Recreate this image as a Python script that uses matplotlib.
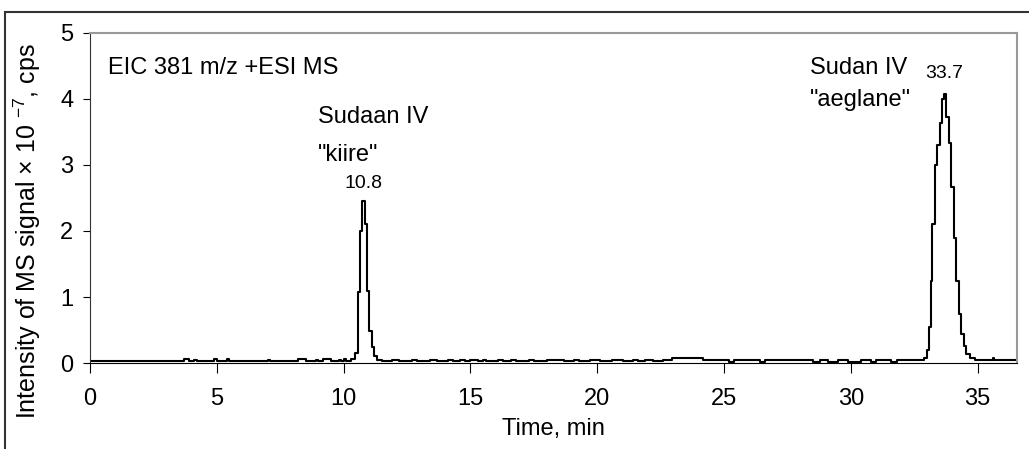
import matplotlib
matplotlib.use("Agg")
import matplotlib.pyplot as plt
from matplotlib.patches import Rectangle

plt.rcParams['font.family'] = ['Liberation Sans', 'DejaVu Sans']

# change points of the step trace (min) and the level that starts there (x 10^7 cps)
times = [0.0, 3.7, 3.9, 4.1, 4.2, 4.9, 5.0, 5.4, 5.5, 7.0, 7.1, 8.2, 8.5, 8.9, 9.0,
         9.2, 9.5, 9.8, 9.9, 10.0, 10.1, 10.3, 10.45, 10.55, 10.65, 10.73, 10.83,
         10.93, 11.02, 11.1, 11.18, 11.3, 11.5, 11.9, 12.2, 12.7, 12.9, 13.4, 13.7,
         14.1, 14.3, 14.6, 14.8, 15.0, 15.3, 15.5, 15.6, 16.1, 16.3, 16.6, 16.8,
         17.3, 17.5, 18.0, 18.7, 19.1, 19.3, 19.7, 20.1, 20.6, 21.0, 21.4, 21.6,
         21.9, 22.2, 22.6, 22.93, 24.16, 25.2, 25.4, 25.6, 26.4, 26.6, 28.5, 28.8,
         29.1, 29.5, 29.9, 30.4, 30.8, 31.0, 31.6, 31.8, 32.6, 32.9, 33.02, 33.08,
         33.14, 33.2, 33.3, 33.4, 33.5, 33.6, 33.68, 33.76, 33.85, 33.95, 34.05,
         34.15, 34.25, 34.35, 34.45, 34.55, 34.7, 34.9, 35.2, 35.6, 35.65, 36.6]
levels = [0.03, 0.06, 0.03, 0.05, 0.03, 0.06, 0.03, 0.06, 0.03, 0.05, 0.03, 0.06, 0.03, 0.05, 0.03,
          0.06, 0.03, 0.05, 0.03, 0.06, 0.03, 0.06, 0.15, 1.07, 2.0, 2.46, 2.1,
          1.09, 0.49, 0.25, 0.1, 0.05, 0.03, 0.05, 0.03, 0.05, 0.03, 0.05, 0.03,
          0.05, 0.03, 0.05, 0.03, 0.05, 0.03, 0.05, 0.03, 0.05, 0.03, 0.05, 0.03,
          0.05, 0.03, 0.05, 0.03, 0.05, 0.03, 0.05, 0.03, 0.05, 0.03, 0.05, 0.03,
          0.05, 0.03, 0.04, 0.07, 0.04, 0.02, 0.04, 0.04, 0.02, 0.04, 0.02, 0.04,
          0.02, 0.04, 0.02, 0.04, 0.02, 0.04, 0.02, 0.04, 0.04, 0.08, 0.2, 0.54,
          1.25, 2.11, 3.0, 3.3, 3.63, 4.0, 4.08, 3.73, 3.33, 2.66, 1.9,
          1.25, 0.74, 0.44, 0.26, 0.14, 0.08, 0.05, 0.04, 0.07, 0.04, 0.04]

xticks = [0, 5, 10, 15, 20, 25, 30, 35]
yticks = [0, 1, 2, 3, 4, 5]

fig = plt.figure(figsize=(10.29, 4.49), dpi=100)
ax = fig.add_axes([90 / 1029, 86 / 449, 927 / 1029, 330 / 449])

# outer frame of the figure
fig.patches.append(Rectangle((5 / 1029, -0.1), 1.2, (449 - 12) / 449 + 0.1,
                             transform=fig.transFigure, fill=False,
                             edgecolor='#333333', lw=1.5))

ax.step(times, levels, where='post', color='black', lw=1.5)

ax.set_xlim(0, 36.55)
ax.set_ylim(0, 5)
ax.set_xticks(xticks)
ax.set_yticks(yticks)
ax.tick_params(axis='both', direction='out', labelsize=17, color='black')
ax.tick_params(axis='x', length=7, pad=11)
ax.tick_params(axis='y', length=5, pad=7)
for side in ['top', 'right']:
    ax.spines[side].set_color('#999999')
    ax.spines[side].set_linewidth(1.5)
ax.spines['left'].set_color('#333333')
ax.spines['bottom'].set_color('black')

ax.set_xlabel('Time, min', fontsize=17, labelpad=6)
ax.set_ylabel('Intensity of MS signal \u00d7 10 $^{\\mathregular{-7}}$, cps',
              fontsize=18)
ax.yaxis.set_label_coords(-0.051, 0.40)

ax.text(0.7, 4.47, 'EIC 381 m/z +ESI MS', fontsize=17, va='center')
ax.text(8.99, 3.72, 'Sudaan IV', fontsize=17, va='center')
ax.text(8.99, 3.15, '"kiire"', fontsize=17, va='center')
ax.text(10.78, 2.72, '10.8', fontsize=14, ha='center', va='center')
ax.text(28.4, 4.47, 'Sudan IV', fontsize=17, va='center')
ax.text(28.4, 3.98, '"aeglane"', fontsize=17, va='center')
ax.text(33.7, 4.39, '33.7', fontsize=14, ha='center', va='center')

fig.savefig('out.png', dpi=100)
